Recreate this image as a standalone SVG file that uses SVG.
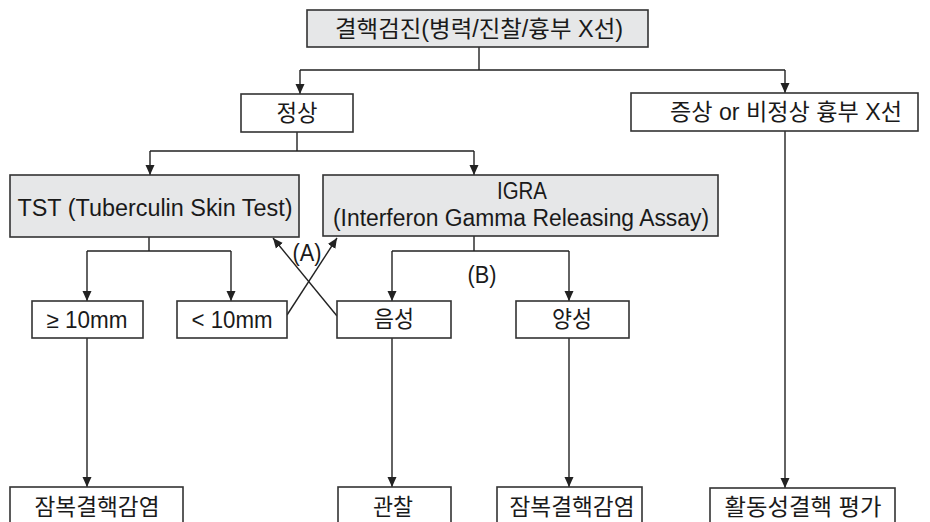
<svg xmlns="http://www.w3.org/2000/svg" width="930" height="522" viewBox="0 0 930 522">
<defs>
<marker id="ah" viewBox="0 0 10 10" refX="10" refY="5" markerWidth="10" markerHeight="10" markerUnits="userSpaceOnUse" orient="auto">
<path d="M0,0.5 L10,5 L0,9.5 Z" fill="#222"/>
</marker>
<style>
.box{fill:#ffffff;stroke:#333;stroke-width:1.6}
.gbox{fill:#e6e7e8;stroke:#333;stroke-width:1.6}
.t{font-family:"Liberation Sans","Noto Sans CJK KR",sans-serif;font-size:23px;fill:#1a1a1a;text-anchor:middle}
.c{fill:none;stroke:#222;stroke-width:1.4}
.ca{fill:none;stroke:#222;stroke-width:1.4;marker-end:url(#ah)}
</style>
</defs>
<rect width="930" height="522" fill="#ffffff"/>
<g id="connectors">
<path class="c" d="M479,47 V70 M300,70 H785 M297,132 V151 M150,151 H474 M149,237 V251 M87,251 H231 M474,236 V251 M392,251 H569"/>
<path class="ca" d="M300,70 V94"/>
<path class="ca" d="M785,70 V93"/>
<path class="ca" d="M150,151 V175"/>
<path class="ca" d="M474,151 V175"/>
<path class="ca" d="M87,251 V301"/>
<path class="ca" d="M231,251 V301"/>
<path class="ca" d="M392,251 V301"/>
<path class="ca" d="M569,251 V301"/>
<path class="ca" d="M87,338 V487"/>
<path class="ca" d="M392,338 V487"/>
<path class="ca" d="M569,338 V487"/>
<path class="ca" d="M785,131 V488"/>
<path class="ca" d="M287,315 L337,238"/>
<path class="ca" d="M337,316 L273,238"/>
<text class="t" x="307" y="261" textLength="29" lengthAdjust="spacingAndGlyphs">(A)</text>
<text class="t" x="482" y="283" textLength="29" lengthAdjust="spacingAndGlyphs">(B)</text>
</g>
<g id="n-screen"><rect class="gbox" x="307" y="10" width="341" height="37"/><text class="t" x="479" y="37" textLength="288" lengthAdjust="spacingAndGlyphs">결핵검진(병력/진찰/흉부 X선)</text></g>
<g id="n-normal"><rect class="box" x="241" y="94" width="112" height="38"/><text class="t" x="297" y="121" textLength="41" lengthAdjust="spacingAndGlyphs">정상</text></g>
<g id="n-abnormal"><rect class="box" x="631" y="93" width="287" height="38"/><text class="t" x="786" y="120" textLength="232" lengthAdjust="spacingAndGlyphs">증상 or 비정상 흉부 X선</text></g>
<g id="n-tst"><rect class="gbox" x="10" y="175" width="289" height="62"/><text class="t" x="155" y="216" textLength="275" lengthAdjust="spacingAndGlyphs">TST (Tuberculin Skin Test)</text></g>
<g id="n-igra"><rect class="gbox" x="323" y="175" width="395" height="61"/><text class="t" x="522" y="199" textLength="50" lengthAdjust="spacingAndGlyphs">IGRA</text><text class="t" x="521" y="226" textLength="376" lengthAdjust="spacingAndGlyphs">(Interferon Gamma Releasing Assay)</text></g>
<g id="n-ge10"><rect class="box" x="32" y="301" width="111" height="37"/><text class="t" x="87" y="328" textLength="81" lengthAdjust="spacingAndGlyphs">≥ 10mm</text></g>
<g id="n-lt10"><rect class="box" x="177" y="301" width="110" height="37"/><text class="t" x="232" y="328" textLength="81" lengthAdjust="spacingAndGlyphs">&lt; 10mm</text></g>
<g id="n-neg"><rect class="box" x="337" y="301" width="114" height="37"/><text class="t" x="394" y="327" textLength="40" lengthAdjust="spacingAndGlyphs">음성</text></g>
<g id="n-pos"><rect class="box" x="516" y="301" width="113" height="37"/><text class="t" x="572" y="327" textLength="40" lengthAdjust="spacingAndGlyphs">양성</text></g>
<g id="n-latent1"><rect class="box" x="10" y="487" width="173" height="50"/><text class="t" x="97" y="515" textLength="125" lengthAdjust="spacingAndGlyphs">잠복결핵감염</text></g>
<g id="n-observe"><rect class="box" x="338" y="487" width="113" height="50"/><text class="t" x="393" y="515" textLength="40" lengthAdjust="spacingAndGlyphs">관찰</text></g>
<g id="n-latent2"><rect class="box" x="497" y="487" width="145" height="50"/><text class="t" x="572" y="515" textLength="125" lengthAdjust="spacingAndGlyphs">잠복결핵감염</text></g>
<g id="n-active"><rect class="box" x="710" y="488" width="185" height="50"/><text class="t" x="803" y="515" textLength="157" lengthAdjust="spacingAndGlyphs">활동성결핵 평가</text></g>
</svg>
